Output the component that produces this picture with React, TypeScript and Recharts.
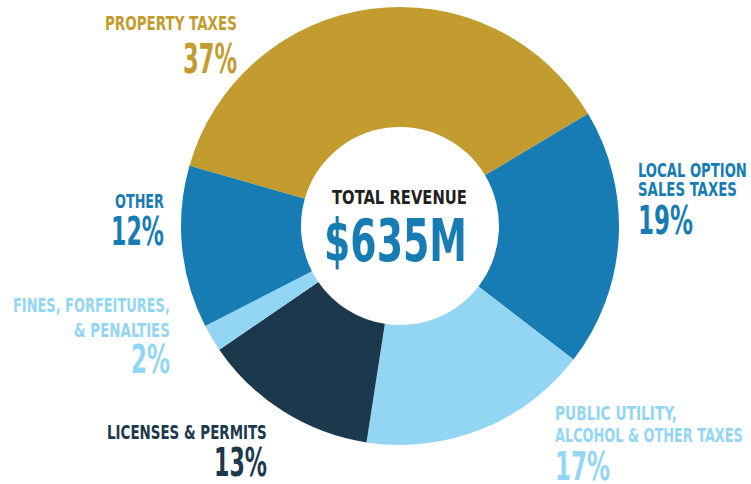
import React from 'react';
import { PieChart, Pie, Cell } from 'recharts';

const categories = [
  'Property Taxes',
  'Local Option Sales Taxes',
  'Public Utility, Alcohol & Other Taxes',
  'Licenses & Permits',
  'Fines, Forfeitures, & Penalties',
  'Other',
];
const shares = [37, 19, 17, 13, 2, 12];
const sliceColors = ['#C39C2F', '#187CB4', '#93D6F3', '#1C384C', '#93D6F3', '#187CB4'];

const totalLabel = 'TOTAL REVENUE';
const totalValue = '$635M';

const data = categories.map((name, i) => ({ name, value: shares[i] }));

const FONT = "'DejaVu Sans Condensed', 'DejaVu Sans', sans-serif";

let ctx: CanvasRenderingContext2D | null = null;
function measure(text: string, size: number) {
  if (!ctx) ctx = document.createElement('canvas').getContext('2d');
  if (!ctx) return text.length * size * 0.6;
  ctx.font = `bold ${size}px ${FONT}`;
  return ctx.measureText(text).width;
}

interface TxtProps {
  x: number; // left edge
  w: number; // target width
  y: number; // baseline
  size: number;
  color: string;
  children: string;
}

// condensed display text squeezed to the width seen in the reference
function Txt({ x, w, y, size, color, children }: TxtProps) {
  const sx = w / measure(children, size);
  return (
    <text
      transform={`translate(${x} ${y}) scale(${sx.toFixed(4)} 1)`}
      fontFamily={FONT}
      fontWeight={700}
      fontSize={size}
      fill={color}
    >
      {children}
    </text>
  );
}

export default function App() {
  return (
    <div style={{ position: 'fixed', left: 0, top: 0, width: 751, height: 484, background: '#fff' }}>
      <PieChart width={751} height={484} margin={{ top: 0, right: 0, bottom: 0, left: 0 }}>
        <Pie
          data={data}
          dataKey="value"
          nameKey="name"
          cx={400}
          cy={226}
          innerRadius={99}
          outerRadius={219}
          startAngle={164}
          endAngle={-196}
          stroke="none"
          isAnimationActive={false}
        >
          {data.map((d, i) => (
            <Cell key={d.name} fill={sliceColors[i]} />
          ))}
        </Pie>
      </PieChart>

      <svg width={751} height={484} style={{ position: 'absolute', left: 0, top: 0, pointerEvents: 'none' }}>
        <Txt x={105} w={132} y={30} size={20} color="#C39C2F">PROPERTY TAXES</Txt>
        <Txt x={183} w={54} y={73} size={41} color="#C39C2F">{`${shares[0]}%`}</Txt>

        <Txt x={638} w={109} y={177} size={20} color="#187CB4">LOCAL OPTION</Txt>
        <Txt x={638} w={99} y={196} size={20} color="#187CB4">SALES TAXES</Txt>
        <Txt x={638} w={55} y={234} size={39} color="#187CB4">{`${shares[1]}%`}</Txt>

        <Txt x={555} w={122} y={420} size={20} color="#93D6F3">PUBLIC UTILITY,</Txt>
        <Txt x={555} w={188} y={442} size={20} color="#93D6F3">ALCOHOL & OTHER TAXES</Txt>
        <Txt x={555} w={55} y={480} size={39} color="#93D6F3">{`${shares[2]}%`}</Txt>

        <Txt x={107} w={160} y={439} size={20} color="#1C384C">LICENSES & PERMITS</Txt>
        <Txt x={214} w={53} y={476} size={39} color="#1C384C">{`${shares[3]}%`}</Txt>

        <Txt x={13} w={157} y={312} size={20} color="#93D6F3">FINES, FORFEITURES,</Txt>
        <Txt x={74} w={96} y={337} size={20} color="#93D6F3">& PENALTIES</Txt>
        <Txt x={131} w={39} y={373} size={39} color="#93D6F3">{`${shares[4]}%`}</Txt>

        <Txt x={115} w={49} y={208} size={20} color="#187CB4">OTHER</Txt>
        <Txt x={111} w={53} y={245} size={39} color="#187CB4">{`${shares[5]}%`}</Txt>

        <Txt x={332} w={135} y={204} size={19} color="#231F20">{totalLabel}</Txt>
        <Txt x={324} w={143} y={261} size={58} color="#187CB4">{totalValue}</Txt>
      </svg>
    </div>
  );
}
